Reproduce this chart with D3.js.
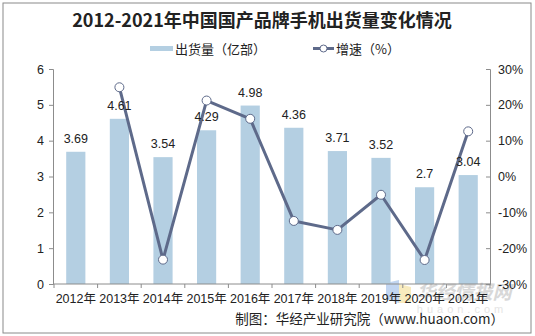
<!DOCTYPE html>
<html><head><meta charset="utf-8">
<script src="https://cdn.jsdelivr.net/npm/d3@7"></script>
<style>body{margin:0;background:#fff}svg{display:block}</style>
</head><body>
<script>
const categories = ["2012年","2013年","2014年","2015年","2016年","2017年","2018年","2019年","2020年","2021年"];
const shipments = [3.69,4.61,3.54,4.29,4.98,4.36,3.71,3.52,2.7,3.04];
const growth = [null,24.9,-23.2,21.2,16.1,-12.4,-14.9,-5.1,-23.3,12.6];
const leftTicks = [0,1,2,3,4,5,6];
const rightTicks = [-30,-20,-10,0,10,20,30];
const title = "2012-2021年中国国产品牌手机出货量变化情况";
const legendLabels = ["出货量（亿部）","增速（%）"];
const sourceText = "制图：华经产业研究院（www.huaon.com）";

const W=535,H=336;
const svg=d3.select("body").append("svg").attr("width",W).attr("height",H);
const font="Arial, 'Liberation Sans', 'Noto Sans CJK SC', sans-serif";
const barColor="#b4cfe2", lineColor="#5e6a8a", axisColor="#8c8c8c", textColor="#222";

svg.append("rect").attr("x",3).attr("y",3).attr("width",528).attr("height",330)
  .attr("fill","#fff").attr("stroke","#8a8a8a").attr("stroke-width",1);

const x=d3.scaleBand().domain(categories).range([54,490]).paddingInner(0.56).paddingOuter(0.28);
const yL=d3.scaleLinear().domain([0,6]).range([284,69]);
const yR=d3.scaleLinear().domain([-30,30]).range([284,69]);

// watermark
const wm=svg.append("g").attr("opacity",0.55);
wm.append("path").attr("d","M386,283 L399,280 L399,303 L386,299 Z").attr("fill","#8fb4e6");
wm.append("path").attr("d","M399,284 L411,287 L411,303 L399,303 Z").attr("fill","#f3dc8a");
wm.append("text").attr("x",464).attr("y",299).attr("text-anchor","middle")
  .attr("font-family","'Noto Sans CJK SC', sans-serif").attr("font-weight","bold")
  .attr("font-size",19).attr("fill","#b9b9b9").attr("font-style","italic").text("华经情报网");
wm.append("text").attr("x",462).attr("y",313).attr("text-anchor","middle")
  .attr("font-family",font).attr("font-size",11).attr("letter-spacing",4).attr("fill","#d0d0d0").text("huaon.com");

// bars
svg.append("g").selectAll("rect").data(shipments).join("rect")
  .attr("x",(d,i)=>x(categories[i])).attr("width",x.bandwidth())
  .attr("y",d=>yL(d)).attr("height",d=>yL(0)-yL(d)).attr("fill",barColor);

// axes
const axL=svg.append("g").attr("transform","translate(53,0)")
  .call(d3.axisLeft(yL).tickValues(leftTicks).tickSize(4).tickPadding(5).tickFormat(d3.format("d")));
const axR=svg.append("g").attr("transform","translate(490,0)")
  .call(d3.axisRight(yR).tickValues(rightTicks).tickSize(-4).tickPadding(8).tickFormat(d=>d+"%"));
const xAxis=d3.axisBottom(x).tickSize(0).tickPadding(10);
const axX=svg.append("g").attr("transform","translate(0,284)").call(xAxis);
axX.select(".domain").attr("d","M53,0H490");
// band boundary ticks
const bounds=categories.map(c=>x(c)-x.step()*x.paddingInner()/2).concat([490]);
axX.selectAll(".bt").data(bounds).join("line").attr("class","bt")
  .attr("x1",d=>d).attr("x2",d=>d).attr("y1",0).attr("y2",4).attr("stroke",axisColor);
[axL,axR,axX].forEach(a=>{
  a.selectAll(".domain").attr("stroke",axisColor);
  a.selectAll(".tick line").attr("stroke",axisColor);
  a.selectAll("text").attr("font-family",font).attr("font-size",12.5).attr("fill",textColor);
});
axX.selectAll("text").attr("font-size",12.5);

// line
const pts=growth.map((g,i)=>({g,i})).filter(d=>d.g!==null);
const line=d3.line().x(d=>x(categories[d.i])+x.bandwidth()/2).y(d=>yR(d.g));
svg.append("path").datum(pts).attr("d",line).attr("fill","none")
  .attr("stroke",lineColor).attr("stroke-width",3).attr("stroke-linejoin","round");
svg.append("g").selectAll("circle").data(pts).join("circle")
  .attr("cx",d=>x(categories[d.i])+x.bandwidth()/2).attr("cy",d=>yR(d.g)).attr("r",4.5)
  .attr("fill","#fff").attr("stroke",lineColor).attr("stroke-width",1);

// bar labels
svg.append("g").selectAll("text").data(shipments).join("text")
  .attr("x",(d,i)=>x(categories[i])+x.bandwidth()/2).attr("y",d=>yL(d)-9)
  .attr("text-anchor","middle").attr("font-family",font).attr("font-size",12.5).attr("fill",textColor)
  .text(d=>d);

// title
svg.append("text").attr("x",262).attr("y",27).attr("text-anchor","middle")
  .attr("font-family","'Noto Sans CJK SC', sans-serif").attr("font-weight","bold")
  .attr("font-size",18).attr("fill","#222").text(title);

// legend
svg.append("rect").attr("x",150).attr("y",46).attr("width",23).attr("height",5).attr("fill",barColor);
svg.append("text").attr("x",175).attr("y",54).attr("font-family","'Noto Sans CJK SC', sans-serif")
  .attr("font-size",13).attr("fill",textColor).text(legendLabels[0]);
svg.append("line").attr("x1",313).attr("x2",334).attr("y1",48.5).attr("y2",48.5).attr("stroke",lineColor).attr("stroke-width",3);
svg.append("circle").attr("cx",323.5).attr("cy",48.5).attr("r",3.5).attr("fill","#fff").attr("stroke",lineColor);
svg.append("text").attr("x",336).attr("y",54).attr("font-family","'Noto Sans CJK SC', sans-serif")
  .attr("font-size",13).attr("fill",textColor).text(legendLabels[1]);

// source
svg.append("text").attr("x",504).attr("y",324).attr("text-anchor","end")
  .attr("font-family","'Noto Sans CJK SC', sans-serif").attr("font-size",13.5).attr("fill",textColor).text(sourceText);
</script>
</body></html>
